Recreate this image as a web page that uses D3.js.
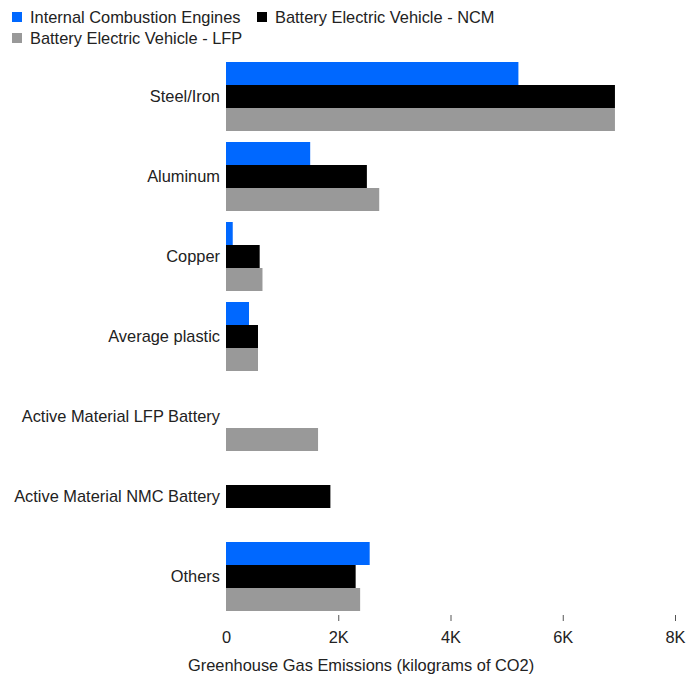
<!DOCTYPE html>
<html>
<head>
<meta charset="utf-8">
<script src="https://cdn.jsdelivr.net/npm/d3@7"></script>
<style>
  body { margin: 0; background: #fff; }
  text { font-family: "Liberation Sans", Arial, sans-serif; fill: #222; }
</style>
</head>
<body>
<script>
// data (kg CO2)
let categories = ['Steel/Iron', 'Aluminum', 'Copper', 'Average plastic',
                  'Active Material LFP Battery', 'Active Material NMC Battery', 'Others'];
let seriesNames = ['Internal Combustion Engines', 'Battery Electric Vehicle - NCM', 'Battery Electric Vehicle - LFP'];
let iceValues = [5210, 1500, 120, 410, 0, 0, 2560];
let ncmValues = [6930, 2510, 600, 570, 0, 1860, 2310];
let lfpValues = [6930, 2730, 650, 570, 1640, 0, 2390];
let xTicks = [0, 2000, 4000, 6000, 8000];
let colors = ['#0068ff', '#000000', '#999999'];

let width = 688, height = 675;
let margin = {top: 62, right: 13, bottom: 64, left: 226};
let fontSize = '16.4px';

let svg = d3.select('body').append('svg')
  .attr('width', width)
  .attr('height', height);

let x = d3.scaleLinear()
  .domain([0, 8000])
  .range([margin.left, width - margin.right]);

let y = d3.scaleBand()
  .domain(categories)
  .range([margin.top, height - margin.bottom])
  .paddingInner(0.1375)
  .paddingOuter(0);

let ySub = d3.scaleBand()
  .domain(seriesNames)
  .range([0, y.bandwidth()]);

let allValues = [iceValues, ncmValues, lfpValues];

let rows = [];
categories.forEach((c, i) => {
  seriesNames.forEach((s, j) => {
    rows.push({cat: c, series: s, value: allValues[j][i], color: colors[j]});
  });
});

svg.append('g')
  .selectAll('rect')
  .data(rows.filter(d => d.value > 0))
  .enter().append('rect')
  .attr('x', x(0))
  .attr('y', d => y(d.cat) + ySub(d.series))
  .attr('width', d => x(d.value) - x(0))
  .attr('height', ySub.bandwidth())
  .attr('fill', d => d.color);

// category labels
svg.append('g')
  .selectAll('text')
  .data(categories)
  .enter().append('text')
  .attr('x', margin.left - 6)
  .attr('y', d => y(d) + y.bandwidth() / 2)
  .attr('dy', '0.35em')
  .attr('text-anchor', 'end')
  .style('font-size', fontSize)
  .text(d => d);

// x axis
let axisY = height - margin.bottom + 4;
let xAxis = svg.append('g')
  .attr('transform', 'translate(0,' + axisY + ')')
  .call(d3.axisBottom(x)
    .tickValues(xTicks)
    .tickSize(6)
    .tickPadding(10)
    .tickFormat(d => d === 0 ? '0' : (d / 1000) + 'K'));

xAxis.select('.domain').remove();
xAxis.selectAll('.tick line').attr('stroke', '#555');
xAxis.selectAll('.tick').filter(d => d === 0).select('line').remove();
xAxis.selectAll('.tick text')
  .style('font-size', fontSize)
  .style('font-family', '"Liberation Sans", Arial, sans-serif')
  .attr('fill', '#222');

svg.append('text')
  .attr('x', 188)
  .attr('y', 671)
  .style('font-size', fontSize)
  .text('Greenhouse Gas Emissions (kilograms of CO2)');

// legend
let legendPos = [[12, 12], [257, 12], [12, 33]];
let legend = svg.append('g')
  .selectAll('g')
  .data(seriesNames)
  .enter().append('g')
  .attr('transform', (d, i) => 'translate(' + legendPos[i][0] + ',' + legendPos[i][1] + ')');

legend.append('rect')
  .attr('width', 10)
  .attr('height', 10)
  .attr('fill', (d, i) => colors[i]);

legend.append('text')
  .attr('x', 18)
  .attr('y', 5)
  .attr('dy', '0.35em')
  .style('font-size', fontSize)
  .text(d => d);
</script>
</body>
</html>
